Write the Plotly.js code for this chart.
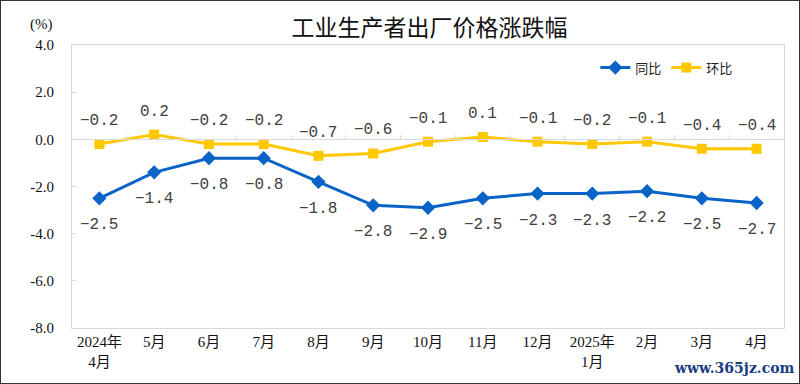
<!DOCTYPE html>
<html>
<head>
<meta charset="utf-8">
<script src="https://cdn.plot.ly/plotly-3.0.1.min.js"></script>
<style>
html,body{margin:0;padding:0;background:#fff;}
#wrap{width:800px;height:384px;box-sizing:border-box;border:1px solid #333;position:relative;overflow:hidden;}
#chart{position:absolute;left:-1px;top:-1px;width:800px;height:384px;}
</style>
</head>
<body>
<div id="wrap"><div id="chart"></div></div>
<script>
const categories = ['2024年<br>4月','5月','6月','7月','8月','9月','10月','11月','12月','2025年<br>1月','2月','3月','4月'];
const yoy = [-2.5,-1.4,-0.8,-0.8,-1.8,-2.8,-2.9,-2.5,-2.3,-2.3,-2.2,-2.5,-2.7];
const mom = [-0.2,0.2,-0.2,-0.2,-0.7,-0.6,-0.1,0.1,-0.1,-0.2,-0.1,-0.4,-0.4];
const yTickVals = [-8,-6,-4,-2,0,2,4];
const yTickText = ['-8.0','-6.0','-4.0','-2.0','0.0','2.0','4.0'];

const fmt = v => v.toFixed(1).replace('-', '\u2212');
const labelFont = {family:'Liberation Mono, monospace', size:16, color:'#404040'};

const traces = [
  {
    x: categories, y: yoy, name: '同比', type: 'scatter', mode: 'lines+markers',
    line: {color:'#0A64C8', width:3},
    marker: {symbol:'diamond', size:11, color:'#0A64C8'},
    cliponaxis: false
  },
  {
    x: categories, y: mom, name: '环比', type: 'scatter', mode: 'lines+markers',
    line: {color:'#FFC800', width:3},
    marker: {symbol:'square', size:10, color:'#FFC800'},
    cliponaxis: false
  },
  {
    x: categories, y: mom, xaxis: 'x2', yaxis: 'y', type: 'scatter', mode: 'none',
    showlegend: false, hoverinfo: 'skip'
  }
];

const labelAnns = [];
categories.forEach((c, i) => {
  labelAnns.push({x:c, y:yoy[i], xref:'x', yref:'y', text:fmt(yoy[i]), showarrow:false,
                  yshift:-27, font:labelFont});
  labelAnns.push({x:c, y:mom[i], xref:'x', yref:'y', text:fmt(mom[i]), showarrow:false,
                  yshift:23, font:labelFont});
});

const layout = {
  width: 800, height: 384,
  margin: {l:72, r:16, t:45, b:56},
  paper_bgcolor: '#fff', plot_bgcolor: '#fff',
  title: {text:'工业生产者出厂价格涨跌幅', x:0.537, xanchor:'center', y:0.927, yanchor:'middle',
          font:{family:'Noto Sans CJK SC, sans-serif', size:23, color:'#111'}},
  xaxis: {
    type:'category', range:[-0.5,12.5], showgrid:false, zeroline:false,
    showline:true, linecolor:'#d9d9d9', mirror:true, linewidth:1,
    ticks:'', tickfont:{family:'Liberation Serif, Noto Sans CJK SC, serif', size:15, color:'#111'},
    fixedrange:true
  },
  xaxis2: {
    type:'category', overlaying:'x', anchor:'free', position:0.6667, range:[-0.5,12.5],
    showgrid:false, zeroline:false, showline:true, linecolor:'#d9d9d9', linewidth:1,
    ticks:'inside', ticklen:4, tickcolor:'#d9d9d9', tickson:'boundaries', showticklabels:false,
    fixedrange:true
  },
  yaxis: {
    range:[-8,4], tickvals:yTickVals, ticktext:yTickText, showgrid:false, zeroline:false,
    showline:true, linecolor:'#d9d9d9', mirror:true, linewidth:1,
    ticks:'inside', ticklen:4, tickcolor:'#d9d9d9', ticklabelstandoff:14,
    tickfont:{family:'Liberation Serif, serif', size:15, color:'#111'}, fixedrange:true
  },
  showlegend: true,
  legend: {orientation:'h', x:0.735, y:0.92, xanchor:'left', yanchor:'middle',
           font:{family:'Noto Sans CJK SC, sans-serif', size:13, color:'#222'},
           bgcolor:'rgba(0,0,0,0)', itemwidth:30, tracegroupgap:0},
  annotations: [
    {text:'(%)', xref:'paper', yref:'paper', x:-0.0435, y:1.071, xanchor:'center', yanchor:'middle',
     showarrow:false, font:{family:'Liberation Serif, serif', size:15, color:'#111'}},
    {text:'<b>www.365jz.com</b>', xref:'paper', yref:'paper', x:1.018, y:-0.14, xanchor:'right', yanchor:'middle',
     showarrow:false, font:{family:'DejaVu Serif, serif', size:14, color:'#1C3C82'}}
  ].concat(labelAnns)
};

Plotly.newPlot('chart', traces, layout, {displayModeBar:false, staticPlot:true});
</script>
</body>
</html>
